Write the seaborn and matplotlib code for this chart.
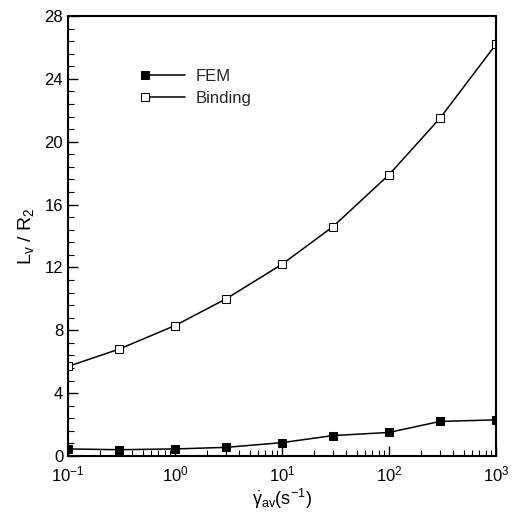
import matplotlib
matplotlib.use("Agg")
import matplotlib.pyplot as plt
import seaborn as sns
import numpy as np
import pandas as pd
from matplotlib.ticker import LogLocator, MultipleLocator, NullFormatter
from matplotlib.legend_handler import HandlerLine2D

shear = [0.1, 0.3, 1, 3, 10, 30, 100, 300, 1000]
fem = [0.45, 0.4, 0.45, 0.55, 0.85, 1.3, 1.5, 2.2, 2.3]
binding = [5.7, 6.8, 8.3, 10.0, 12.2, 14.6, 17.9, 21.5, 26.2]

sns.set_theme(style="ticks")
plt.rcParams['font.family'] = ['Liberation Sans', 'DejaVu Sans']
plt.rcParams['mathtext.fontset'] = 'custom'
plt.rcParams['mathtext.rm'] = 'Liberation Sans'
plt.rcParams['mathtext.it'] = 'Liberation Sans'


class LeftMarkerHandler(HandlerLine2D):
    def create_artists(self, legend, orig_handle, xdescent, ydescent,
                       width, height, fontsize, trans):
        arts = super().create_artists(legend, orig_handle, xdescent, ydescent,
                                      width, height, fontsize, trans)
        for a in arts:
            if a.get_marker() not in (None, "None", "", " "):
                a.set_markevery([0])
        return arts


fig = plt.figure(figsize=(5.15, 5.12), dpi=100)
ax = fig.add_axes([68/515, 1-456/512, (496-68)/515, (456-16)/512])

df = pd.DataFrame({"x": shear, "FEM": fem, "Binding": binding})
sns.lineplot(data=df, x="x", y="FEM", ax=ax, color="black", lw=1.1,
             marker="s", markersize=6, markerfacecolor="black",
             markeredgecolor="black", label="FEM")
sns.lineplot(data=df, x="x", y="Binding", ax=ax, color="black", lw=1.1,
             marker="s", markersize=6, markerfacecolor="white",
             markeredgecolor="black", label="Binding")

ax.set_xscale("log")
ax.set_xlim(0.1, 1000)
ax.set_ylim(0, 28)
ax.yaxis.set_major_locator(MultipleLocator(4))
ax.yaxis.set_minor_locator(MultipleLocator(0.8))
ax.xaxis.set_major_locator(LogLocator(base=10, numticks=10))
ax.xaxis.set_minor_locator(LogLocator(base=10, subs=np.arange(2, 10), numticks=20))
ax.xaxis.set_minor_formatter(NullFormatter())
ax.tick_params(which="both", direction="in", top=False, right=False,
               labelsize=12, colors="black")
ax.tick_params(which="major", length=7, width=1)
ax.tick_params(which="minor", length=4, width=0.8)
ax.tick_params(axis="x", pad=6)
for s in ax.spines.values():
    s.set_linewidth(1.5)
    s.set_color("black")

ax.set_xlabel(r"$\dot{\gamma}_{av}$(s$^{-1}$)", fontsize=13, color="black", labelpad=2)
ax.set_ylabel(r"L$_v$ / R$_2$", fontsize=14, color="black", labelpad=6)

handles, labels = ax.get_legend_handles_labels()
leg = ax.legend(handles, labels, loc="upper left",
                bbox_to_anchor=(0.153, 0.906), frameon=False,
                fontsize=12, handlelength=2.4, handletextpad=0.6,
                labelspacing=0.4, borderpad=0.2,
                handler_map={h: LeftMarkerHandler() for h in handles})

fig.savefig("out.png", dpi=100, facecolor="white")
